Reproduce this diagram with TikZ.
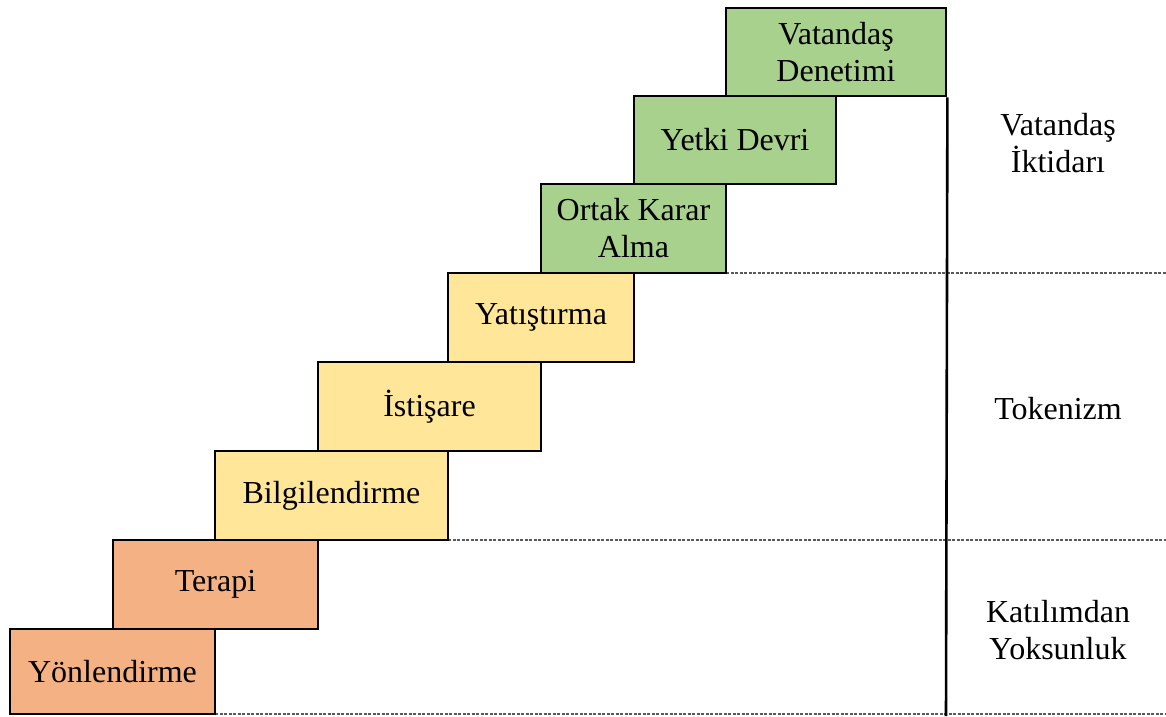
\documentclass[tikz,border=0pt]{standalone}
\usepackage{fontspec}
\setmainfont{Liberation Serif}
\newfontfamily\tnr{Liberation Serif}
\definecolor{cgreen}{HTML}{A9D18E}
\definecolor{cyellow}{HTML}{FFE699}
\definecolor{corange}{HTML}{F4B183}
\begin{document}
\begin{tikzpicture}[x=1pt,y=-1pt,
  stepbox/.style={draw=black, line width=2.8pt, inner sep=0pt, align=center,
    font=\tnr\fontsize{32}{37}\selectfont},
  levellabel/.style={inner sep=0pt, align=center, font=\tnr\fontsize{32}{37}\selectfont},
  divider/.style={draw=black!65, line width=1.1pt, dash pattern=on 3pt off 1.5pt},
  axis/.style={draw=black, line width=2.6pt}]
\useasboundingbox (0,0) rectangle (1166,716);
% dashed dividers (drawn first)
\coordinate (r1) at (1166,273);
\coordinate (r2) at (1166,540);
\coordinate (r3) at (1166,714);
\coordinate (bot) at (946,716);
\coordinate (d1) at (726,273);
\coordinate (d2) at (448,540);
\coordinate (d3) at (215,714);
\draw[divider] (d1) -- (r1);
\draw[divider] (d2) -- (r2);
\draw[divider] (d3) -- (r3);
% boxes
\node[stepbox, fill=corange, minimum width=205pt, minimum height=85pt] (yo) at (112.5,671.5) {Yönlendirme};
\node[stepbox, fill=corange, minimum width=205pt, minimum height=89pt] (te) at (215.5,584.5) {Terapi};
\node[stepbox, fill=cyellow, minimum width=233pt, minimum height=89pt] (bi) at (331.5,495.5) {Bilgilendirme};
\node[stepbox, fill=cyellow, minimum width=223pt, minimum height=89pt] (is) at (429.5,406.5) {İstişare};
\node[stepbox, fill=cyellow, minimum width=186pt, minimum height=89pt] (ya) at (541,317.5) {Yatıştırma};
\node[stepbox, fill=cgreen, minimum width=185pt, minimum height=89pt] (ok) at (633.5,228.5) {Ortak Karar\\Alma};
\node[stepbox, fill=cgreen, minimum width=202pt, minimum height=88pt] (yd) at (735,140) {Yetki Devri};
\node[stepbox, fill=cgreen, minimum width=220pt, minimum height=88pt] (vd) at (836,52) {Vatandaş\\Denetimi};
% vertical axis
\draw[axis] (vd.south east) -- (bot);
% level labels
\node[levellabel] (l1) at (1058,143) {Vatandaş\\İktidarı};
\node[levellabel] (l2) at (1058,409) {Tokenizm};
\node[levellabel] (l3) at (1058,630) {Katılımdan\\Yoksunluk};
\end{tikzpicture}
\end{document}
